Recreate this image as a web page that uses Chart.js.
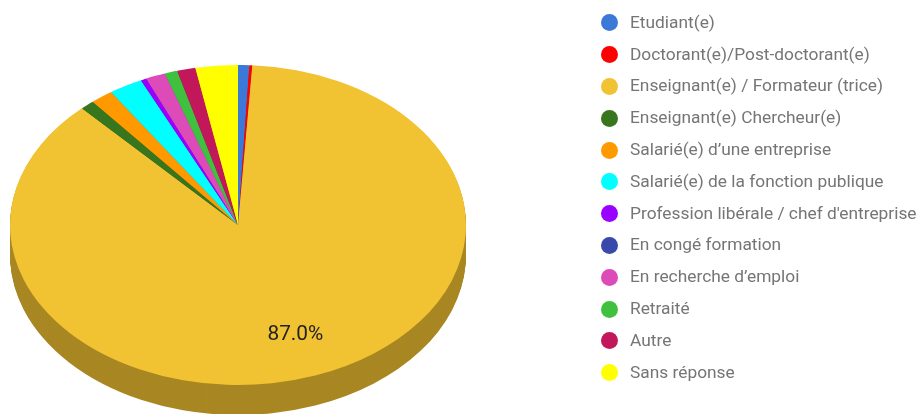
<!DOCTYPE html>
<html>
<head>
<meta charset="utf-8">
<title>Pie chart</title>
<script src="https://cdn.jsdelivr.net/npm/chart.js@4"></script>
<style>
    html, body { margin: 0; padding: 0; background: #fff; overflow: hidden; }
    #wrap { position: relative; width: 917px; height: 414px; }
    #legend { position: absolute; left: 601px; top: 7px; font: 17.33px Roboto, sans-serif; color: #757575; }
    .row { display: flex; align-items: center; height: 31.8px; white-space: nowrap; }
    .dot { width: 17px; height: 17px; border-radius: 50%; margin-right: 12px; flex: none; }
    .name { position: relative; top: -1px; }
</style>
</head>
<body>
<div id="wrap">
    <canvas id="pie" width="917" height="414"></canvas>
    <div id="legend"></div>
</div>
<script>
const categories = [
    'Etudiant(e)',
    'Doctorant(e)/Post-doctorant(e)',
    'Enseignant(e) / Formateur (trice)',
    'Enseignant(e) Chercheur(e)',
    'Salarié(e) d’une entreprise',
    'Salarié(e) de la fonction publique',
    "Profession libérale / chef d'entreprise",
    'En congé formation',
    'En recherche d’emploi',
    'Retraité',
    'Autre',
    'Sans réponse'
];
const shares = [0.8, 0.2, 87.0, 1.0, 1.6, 2.4, 0.4, 0, 1.4, 0.9, 1.3, 3.0];
const colors = ['#3c78d8', '#ff0000', '#f1c232', '#38761d', '#ff9900', '#00ffff',
    '#9900ff', '#3949ab', '#dd4bb9', '#3fc13f', '#c2185b', '#ffff00'];

// the pie is flattened and extruded by hand, Chart.js has no 3D mode
const SQUASH = 160 / 228;
const DEPTH = 30;

const tiltedPie = {
    id: 'tiltedPie',
    beforeDatasetsDraw(chart) {
        const ctx = chart.ctx;
        const arcs = chart.getDatasetMeta(0).data;
        const cy = arcs[0].y;

        function drawArcs(shift) {
            ctx.save();
            ctx.translate(0, cy + shift);
            ctx.scale(1, SQUASH);
            ctx.translate(0, -cy);
            arcs.forEach(arc => arc.draw(ctx));
            ctx.restore();
        }

        ctx.save();
        ctx.filter = 'brightness(0.7)';
        for (let d = DEPTH; d > 0; d--) {
            drawArcs(d);
        }
        ctx.restore();
        drawArcs(0);

        // percent label, only the big slice has room for one
        arcs.forEach((arc, i) => {
            if (shares[i] < 5) return;
            const mid = (arc.startAngle + arc.endAngle) / 2;
            const dist = arc.outerRadius * 0.73;
            ctx.fillStyle = '#222222';
            ctx.font = '20.8px Roboto, sans-serif';
            ctx.textAlign = 'center';
            ctx.textBaseline = 'middle';
            ctx.fillText(shares[i].toFixed(1) + '%', arc.x + Math.cos(mid) * dist + 1, cy + Math.sin(mid) * dist * SQUASH);
        });
        return false;
    }
};

new Chart(document.getElementById('pie'), {
    type: 'pie',
    data: {
        labels: categories,
        datasets: [{ data: shares, backgroundColor: colors, borderWidth: 0 }]
    },
    options: {
        responsive: false,
        animation: false,
        radius: 228,
        layout: { padding: { top: 36, right: 441 } },
        plugins: { legend: { display: false }, tooltip: { enabled: false } }
    },
    plugins: [tiltedPie]
});

// HTML legend, fixed spacing and a wider gap than the built-in one
const legend = document.getElementById('legend');
categories.forEach((name, i) => {
    const row = document.createElement('div');
    row.className = 'row';
    const dot = document.createElement('span');
    dot.className = 'dot';
    dot.style.background = colors[i];
    const text = document.createElement('span');
    text.className = 'name';
    text.textContent = name;
    row.appendChild(dot);
    row.appendChild(text);
    legend.appendChild(row);
});
</script>
</body>
</html>
